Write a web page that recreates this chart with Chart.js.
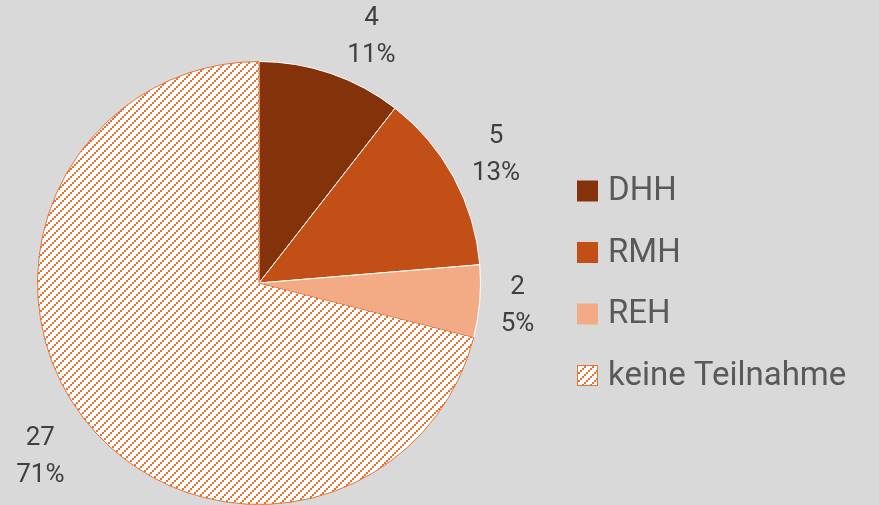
<!DOCTYPE html>
<html>
<head>
<meta charset="utf-8">
<script src="https://cdn.jsdelivr.net/npm/chart.js@4/dist/chart.umd.min.js"></script>
<style>
  html, body { margin: 0; padding: 0; background: #D9D9D9; }
  #wrap { width: 879px; height: 505px; position: relative; }
</style>
</head>
<body>
<div id="wrap"><canvas id="c" width="879" height="505"></canvas></div>
<script>
// ---- data ----
const categories = ['DHH', 'RMH', 'REH', 'keine Teilnahme'];
const values = [4, 5, 2, 27];

// ---- styles ----
const ORANGE = '#E97132';
const ctx0 = document.getElementById('c').getContext('2d');
const hatch = (function(){
  const p = document.createElement('canvas');
  p.width = 8; p.height = 8;
  const g = p.getContext('2d');
  g.fillStyle = '#FFFFFF';
  g.fillRect(0, 0, 8, 8);
  g.fillStyle = ORANGE;
  // wide upward diagonal: 2x2 blocks stepping up-right
  for (let k = 0; k < 4; k++) g.fillRect(k * 2, 6 - k * 2, 2, 2);
  return ctx0.createPattern(p, 'repeat');
})();
const fillColors = ['#843209', '#C24F16', '#F3AB86', hatch];
const borderColors = ['#FFFFFF', '#FFFFFF', '#FFFFFF', ORANGE];
const labelNudgeX = [25, 0, -10, -6];
const labelNudgeY = [8, 0, 0, 8];

const total = values.reduce((a, b) => a + b, 0);

const labelPlugin = {
  id: 'sliceLabels',
  afterDatasetsDraw(chart) {
    const ctx = chart.ctx;
    const meta = chart.getDatasetMeta(0);
    ctx.save();
    ctx.font = '26px Roboto, sans-serif';
    ctx.fillStyle = '#404040';
    ctx.textAlign = 'center';
    ctx.textBaseline = 'middle';
    meta.data.forEach((arc, i) => {
      const p = arc.getProps(['x', 'y', 'startAngle', 'endAngle', 'outerRadius'], true);
      const mid = (p.startAngle + p.endAngle) / 2;
      const r = p.outerRadius + 48;
      const x = p.x + Math.cos(mid) * r + labelNudgeX[i];
      const y = p.y + Math.sin(mid) * r + labelNudgeY[i];
      const pct = Math.round(values[i] / total * 100) + '%';
      ctx.fillText(String(values[i]), x, y - 18);
      ctx.fillText(pct, x, y + 19);
    });
    ctx.restore();
  }
};

const legendPlugin = {
  id: 'sideLegend',
  afterDraw(chart) {
    const ctx = chart.ctx;
    const x0 = chart.chartArea.right + 96;
    const y0 = 191, step = 61.5, box = 21;
    ctx.save();
    ctx.font = '33px Roboto, sans-serif';
    ctx.textBaseline = 'middle';
    ctx.textAlign = 'left';
    categories.forEach((c, i) => {
      const y = y0 + i * step;
      ctx.fillStyle = fillColors[i];
      ctx.fillRect(x0, y - box / 2, box, box);
      if (i === 3) {
        ctx.strokeStyle = ORANGE;
        ctx.lineWidth = 1;
        ctx.strokeRect(x0 + 0.5, y - box / 2 + 0.5, box - 1, box - 1);
      }
      ctx.fillStyle = '#595959';
      ctx.fillText(c, x0 + 31, y + 1);
    });
    ctx.restore();
  }
};

new Chart(document.getElementById('c'), {
  type: 'pie',
  data: {
    labels: categories,
    datasets: [{
      data: values,
      backgroundColor: fillColors,
      borderColor: borderColors,
      borderWidth: 1
    }]
  },
  options: {
    responsive: false,
    devicePixelRatio: 1,
    animation: false,
    layout: { padding: { left: 37, top: 61, right: 398, bottom: 0 } },
    plugins: {
      legend: { display: false },
      tooltip: { enabled: false }
    }
  },
  plugins: [labelPlugin, legendPlugin]
});
</script>
</body>
</html>
